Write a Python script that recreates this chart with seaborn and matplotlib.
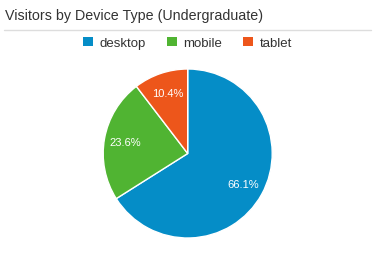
import matplotlib
matplotlib.use("Agg")
import matplotlib.pyplot as plt
from matplotlib.lines import Line2D
from matplotlib.patches import Patch
import seaborn as sns

categories = ["desktop", "mobile", "tablet"]
values = [66.1, 23.6, 10.4]
colors = ["#058DC7", "#50B432", "#ED561B"]

sns.set_theme(style="white")
plt.rcParams['font.family'] = ['Liberation Sans', 'DejaVu Sans']

W, H = 375, 255
fig = plt.figure(figsize=(W / 100, H / 100), dpi=100)
fig.patch.set_facecolor("white")

# pie axes
cx, cy, r = 187.7, 154.5, 84.5
ax = fig.add_axes([(cx - r) / W, 1 - (cy + r) / H, 2 * r / W, 2 * r / H])
palette = sns.color_palette(colors)
label_iter = iter([f"{v:.1f}%" for v in values])
wedges, texts, autotexts = ax.pie(
    values, colors=palette, startangle=90, counterclock=False,
    autopct=lambda p: next(label_iter), pctdistance=0.75, radius=1,
    wedgeprops=dict(edgecolor="white", linewidth=1),
    textprops=dict(color="white", fontsize=8))
ax.set_xlim(-1, 1)
ax.set_ylim(-1, 1)
ax.set_aspect("equal")
ax.axis("off")

# title
fig.text(5 / W, 1 - 16 / H, "Visitors by Device Type (Undergraduate)",
         ha="left", va="center", fontsize=10.3, color="#333333")
fig.add_artist(Line2D([4 / W, 371 / W], [1 - 30.5 / H, 1 - 30.5 / H],
                      transform=fig.transFigure, color="#dddddd", linewidth=1))

# legend
handles = [Patch(facecolor=c, edgecolor="none") for c in palette]
fig.legend(handles, categories, loc="center", bbox_to_anchor=(0.5, 1 - 44 / H),
           ncol=3, frameon=False, fontsize=9.5, handlelength=0.75, handleheight=0.75,
           handletextpad=0.5, columnspacing=1.6, labelcolor="#333333")

fig.savefig("out.png", dpi=100)
